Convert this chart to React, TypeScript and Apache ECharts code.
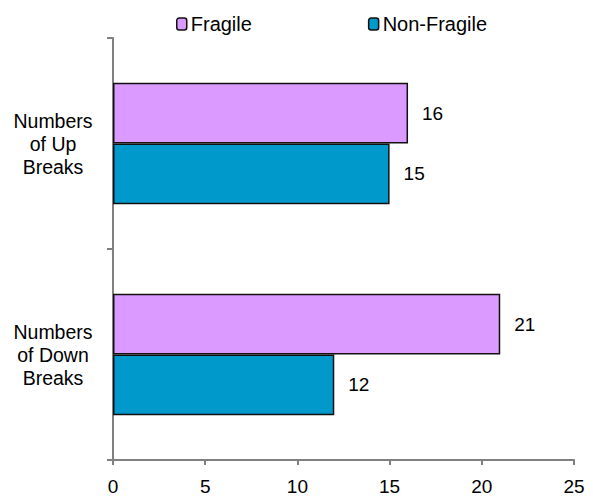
import React, { useEffect, useRef } from "react";
import * as echarts from "echarts";

const categories = ["Numbers\nof Up\nBreaks", "Numbers\nof Down\nBreaks"];
const fragile = [16, 21];
const nonFragile = [15, 12];
const xTicks = [0, 5, 10, 15, 20, 25];

export default function App() {
  const ref = useRef<HTMLDivElement>(null);
  useEffect(() => {
    const chart = echarts.init(ref.current!, null, { renderer: "svg" });
    const font = "Arial, 'Liberation Sans', sans-serif";
    const barLabel = {
      show: true,
      position: "right",
      distance: 14,
      color: "#000",
      fontSize: 19,
      fontFamily: font,
    };
    chart.setOption({
      animation: false,
      backgroundColor: "#fff",
      textStyle: { fontFamily: font },
      legend: {
        top: 9,
        left: 171,
        itemGap: 116,
        itemWidth: 10,
        itemHeight: 12,
        textStyle: { fontSize: 20, color: "#000", fontFamily: font, padding: [0, 0, 0, -1] },
        data: [
          { name: "Fragile", itemStyle: { color: "#DA9AFF", borderColor: "#111", borderWidth: 1.5 } },
          { name: "Non-Fragile", itemStyle: { color: "#0099CC", borderColor: "#111", borderWidth: 1.5 } },
        ],
      },
      grid: { left: 113, right: 19, top: 38, bottom: 41 },
      xAxis: {
        type: "value",
        min: xTicks[0],
        max: xTicks[xTicks.length - 1],
        interval: 5,
        splitLine: { show: false },
        axisLine: { show: true, lineStyle: { color: "#808080", width: 2 } },
        axisTick: { show: true, length: 5, lineStyle: { color: "#808080", width: 2 } },
        axisLabel: { color: "#000", fontSize: 19, fontFamily: font, margin: 17 },
      },
      yAxis: {
        type: "category",
        inverse: true,
        data: categories,
        axisLine: { show: true, lineStyle: { color: "#808080", width: 2 } },
        axisTick: { show: true, length: 6, lineStyle: { color: "#808080", width: 2 } },
        axisLabel: {
          color: "#000",
          fontSize: 19.5,
          fontFamily: font,
          align: "center",
          margin: 60,
          lineHeight: 23,
        },
      },
      series: [
        {
          name: "Fragile",
          type: "bar",
          data: fragile,
          barGap: "0%",
          barCategoryGap: "42.5%",
          itemStyle: { color: "#DA9AFF", borderColor: "#111", borderWidth: 1.5 },
          label: barLabel,
        },
        {
          name: "Non-Fragile",
          type: "bar",
          data: nonFragile,
          barGap: "0%",
          barCategoryGap: "42.5%",
          itemStyle: { color: "#0099CC", borderColor: "#111", borderWidth: 1.5 },
          label: barLabel,
        },
      ],
    });
    return () => chart.dispose();
  }, []);
  return <div ref={ref} style={{ width: 593, height: 501, margin: -8 }} />;
}
